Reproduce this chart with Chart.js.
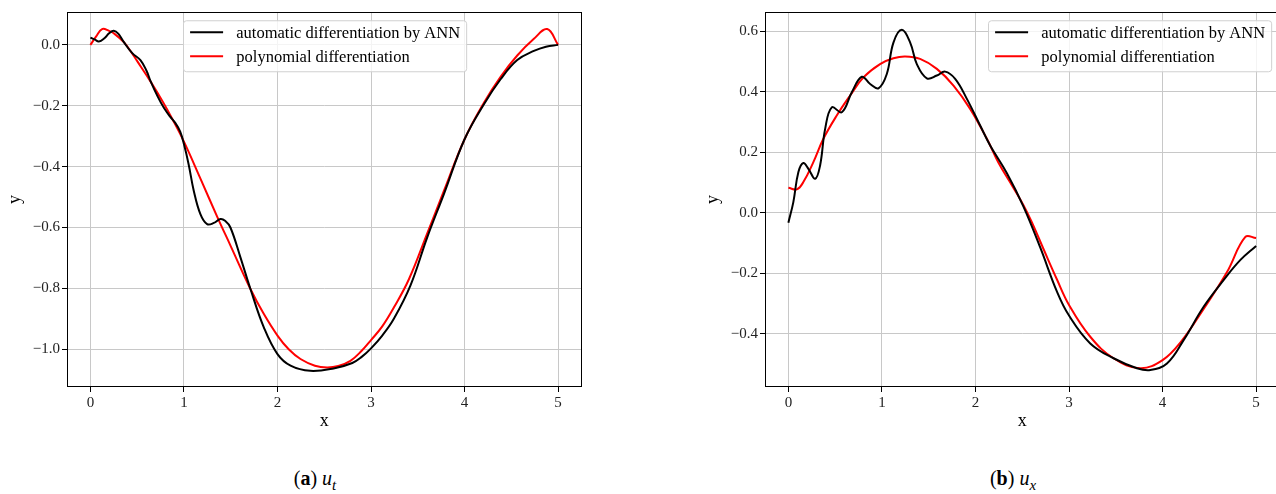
<!DOCTYPE html>
<html>
<head>
<meta charset="utf-8">
<title>u_t / u_x</title>
<script src="https://cdn.jsdelivr.net/npm/chart.js@4.4.1/dist/chart.umd.min.js"></script>
<style>
  html, body { margin: 0; padding: 0; background: #fff; overflow: hidden; width: 1276px; height: 494px; }
  .panel { position: absolute; top: 0; }
  .legende { position: absolute; top: 467px; width: 200px; text-align: center;
             font-family: 'Liberation Serif', 'Times New Roman', serif; font-size: 20px; color: #000; }
  .legende sub { font-size: 15px; }
</style>
</head>
<body>
<div class="panel" style="left:0"><canvas id="graph-ut" width="640" height="440"></canvas></div>
<div class="panel" style="left:698px"><canvas id="graph-ux" width="640" height="440"></canvas></div>
<div class="legende" style="left:215px">(<b>a</b>) <i>u<sub>t</sub></i></div>
<div class="legende" style="left:913px">(<b>b</b>) <i>u<sub>x</sub></i></div>

<script>
// u_t : dérivée en temps
const utAnnX = [0, 0.05, 0.09, 0.15, 0.2, 0.25, 0.3, 0.36, 0.45, 0.535, 0.6, 0.642, 0.72, 0.784, 0.85, 0.909, 0.96, 1.0,
  1.05, 1.105, 1.176, 1.248, 1.32, 1.39, 1.44, 1.497, 1.604, 1.711, 1.854, 2.0, 2.14, 2.35, 2.6, 2.8, 2.9, 3.0, 3.12,
  3.244, 3.422, 3.6, 3.779, 4.0, 4.207, 4.385, 4.563, 4.741, 4.87, 5.0];
const utAnnY = [0.024, 0.017, 0.011, 0.022, 0.038, 0.046, 0.036, 0.008, -0.028, -0.05, -0.085, -0.118, -0.17, -0.206,
  -0.235, -0.257, -0.285, -0.326, -0.392, -0.479, -0.556, -0.589, -0.585, -0.572, -0.578, -0.6, -0.698, -0.802,
  -0.928, -1.016, -1.054, -1.071, -1.063, -1.045, -1.025, -0.997, -0.955, -0.9, -0.79, -0.633, -0.49, -0.31, -0.195,
  -0.113, -0.05, -0.02, -0.006, 0.0];
const utPolyX = [0, 0.06, 0.125, 0.2, 0.25, 0.36, 0.45, 0.54, 0.642, 0.78, 0.87, 1.0, 1.18, 1.355, 1.5, 1.711, 1.85,
  2.0, 2.12, 2.246, 2.4, 2.53, 2.65, 2.78, 2.9, 3.0, 3.12, 3.244, 3.405, 3.6, 3.779, 4.0, 4.207, 4.385, 4.563, 4.741,
  4.884, 5.0];
const utPolyY = [0.0, 0.027, 0.052, 0.046, 0.038, 0.008, -0.03, -0.072, -0.12, -0.19, -0.24, -0.318, -0.442, -0.564,
  -0.661, -0.802, -0.882, -0.955, -1.0, -1.032, -1.054, -1.06, -1.055, -1.038, -1.005, -0.97, -0.925, -0.863, -0.77,
  -0.62, -0.48, -0.31, -0.19, -0.105, -0.035, 0.02, 0.052, 0.0];

// u_x : dérivée en espace
const uxAnnX = [0, 0.053, 0.107, 0.16, 0.214, 0.286, 0.339, 0.393, 0.464, 0.571, 0.678, 0.785, 0.874, 0.963, 1.052,
  1.123, 1.213, 1.302, 1.373, 1.48, 1.587, 1.676, 1.783, 1.908, 2.05, 2.157, 2.336, 2.513, 2.692, 2.87, 3.0, 3.227,
  3.476, 3.726, 3.869, 4.047, 4.225, 4.439, 4.652, 4.83, 5.0];
const uxAnnY = [-0.033, 0.035, 0.134, 0.164, 0.145, 0.112, 0.156, 0.277, 0.348, 0.332, 0.398, 0.449, 0.425, 0.411,
  0.458, 0.562, 0.604, 0.562, 0.491, 0.444, 0.453, 0.466, 0.442, 0.376, 0.288, 0.222, 0.13, 0.02, -0.115, -0.26,
  -0.34, -0.432, -0.481, -0.514, -0.52, -0.498, -0.421, -0.311, -0.223, -0.157, -0.11];
const uxPolyX = [0, 0.09, 0.16, 0.267, 0.374, 0.517, 0.66, 0.802, 0.98, 1.123, 1.248, 1.408, 1.587, 1.765, 1.943,
  2.122, 2.246, 2.4, 2.513, 2.6, 2.727, 2.87, 3.0, 3.227, 3.476, 3.76, 4.0, 4.2, 4.439, 4.689, 4.885, 5.0];
const uxPolyY = [0.082, 0.077, 0.101, 0.167, 0.244, 0.321, 0.387, 0.447, 0.491, 0.51, 0.516, 0.508, 0.475, 0.42,
  0.343, 0.244, 0.165, 0.085, 0.025, -0.03, -0.12, -0.22, -0.305, -0.41, -0.481, -0.514, -0.487, -0.425, -0.318,
  -0.196, -0.08, -0.084];

// graduations
const xTicks = [0, 1, 2, 3, 4, 5];
const utYTicks = [-1.0, -0.8, -0.6, -0.4, -0.2, 0.0];
const uxYTicks = [-0.4, -0.2, 0.0, 0.2, 0.4, 0.6];

const labelAnn = 'automatic differentiation by ANN';
const labelPoly = 'polynomial differentiation';

const SERIF = "'Liberation Serif', 'Times New Roman', serif";

function points(xs, ys) {
  return xs.map((x, i) => ({ x: x, y: ys[i] }));
}

function moins(v) {
  return (v < 0 ? '\u2212' : '') + Math.abs(v).toFixed(1);
}

// cadre noir autour de la zone de tracé
const cadre = {
  id: 'cadre',
  afterDatasetsDraw(chart) {
    const { ctx, chartArea: a } = chart;
    ctx.save();
    ctx.strokeStyle = '#000';
    ctx.lineWidth = 1;
    ctx.strokeRect(Math.round(a.left) + 0.5, Math.round(a.top) + 0.5,
      Math.round(a.right - a.left) - 1, Math.round(a.bottom - a.top) - 1);
    ctx.restore();
  }
};

// légende encadrée, dans la zone de tracé
const legendeBoite = {
  id: 'legendeBoite',
  afterDraw(chart, args, opts) {
    const { ctx, chartArea: a } = chart;
    const fs = 16.5;
    const pad = 0.4 * fs, handle = 2 * fs, gap = 0.8 * fs, marge = 0.5 * fs;
    const pas = 24;
    const sets = chart.data.datasets;
    ctx.save();
    ctx.font = fs + 'px ' + SERIF;
    const w = Math.max(...sets.map(d => ctx.measureText(d.label).width));
    const boxW = pad + handle + gap + w + pad;
    const boxH = 51;
    let x0 = opts.loc === 'upper right' ? a.right - marge - boxW : (a.left + a.right) / 2 - boxW / 2;
    const y0 = a.top + marge;
    x0 = Math.round(x0) + 0.5;

    ctx.beginPath();
    ctx.roundRect(x0, y0 + 0.5, boxW, boxH, 3);
    ctx.fillStyle = 'rgba(255,255,255,0.8)';
    ctx.fill();
    ctx.strokeStyle = '#d0d0d0';
    ctx.lineWidth = 1;
    ctx.stroke();

    sets.forEach((d, i) => {
      const yc = y0 + 12 + i * pas;
      ctx.beginPath();
      ctx.moveTo(x0 + pad, yc);
      ctx.lineTo(x0 + pad + handle, yc);
      ctx.strokeStyle = d.borderColor;
      ctx.lineWidth = 2;
      ctx.stroke();
      ctx.fillStyle = '#000';
      ctx.textBaseline = 'middle';
      ctx.fillText(d.label, x0 + pad + handle + gap, yc + 1);
    });
    ctx.restore();
  }
};

function tracer(id, annX, annY, polyX, polyY, yMin, yMax, yTicks, loc) {
  const ctx = document.getElementById(id).getContext('2d');
  return new Chart(ctx, {
    type: 'line',
    data: {
      datasets: [
        {
          label: labelAnn,
          data: points(annX, annY),
          borderColor: '#000000',
          borderWidth: 2,
          pointRadius: 0,
          tension: 0.4,
          fill: false
        },
        {
          label: labelPoly,
          data: points(polyX, polyY),
          borderColor: '#ff0000',
          borderWidth: 2,
          pointRadius: 0,
          tension: 0.4,
          fill: false
        }
      ]
    },
    options: {
      responsive: false,
      animation: false,
      events: [],
      layout: { padding: { top: 12, right: 58.5, left: 0, bottom: 0 } },
      plugins: {
        legend: { display: false },
        tooltip: { enabled: false },
        legendeBoite: { loc: loc }
      },
      scales: {
        x: {
          type: 'linear',
          min: -0.25,
          max: 5.25,
          afterBuildTicks: s => { s.ticks = xTicks.map(v => ({ value: v })); },
          afterFit: s => { s.height = 53; s.paddingLeft = 0; s.paddingRight = 0; },
          border: { display: false },
          grid: { color: '#c8c8c8', lineWidth: 1, tickColor: '#000', tickLength: 5, tickWidth: 1 },
          ticks: {
            padding: 2,
            color: '#222',
            font: { family: SERIF, size: 15 },
            maxRotation: 0,
            callback: v => String(v)
          },
          title: { display: true, text: 'x', color: '#000', font: { family: SERIF, size: 18 }, padding: { top: 0, bottom: 8 } }
        },
        y: {
          type: 'linear',
          min: yMin,
          max: yMax,
          afterBuildTicks: s => { s.ticks = yTicks.map(v => ({ value: v })); },
          afterFit: s => { s.width = 67; s.paddingTop = 0; s.paddingBottom = 0; },
          border: { display: false },
          grid: { color: '#c8c8c8', lineWidth: 1, tickColor: '#000', tickLength: 5, tickWidth: 1 },
          ticks: {
            padding: 2,
            color: '#222',
            font: { family: SERIF, size: 15 },
            callback: v => moins(v)
          },
          title: { display: true, text: 'y', color: '#000', font: { family: SERIF, size: 18 }, padding: { top: 4, bottom: 0 } }
        }
      }
    },
    plugins: [cadre, legendeBoite]
  });
}

window.chartUt = tracer('graph-ut', utAnnX, utAnnY, utPolyX, utPolyY, -1.124, 0.108, utYTicks, 'upper center');
window.chartUx = tracer('graph-ux', uxAnnX, uxAnnY, uxPolyX, uxPolyY, -0.576, 0.663, uxYTicks, 'upper right');
</script>
</body>
</html>
